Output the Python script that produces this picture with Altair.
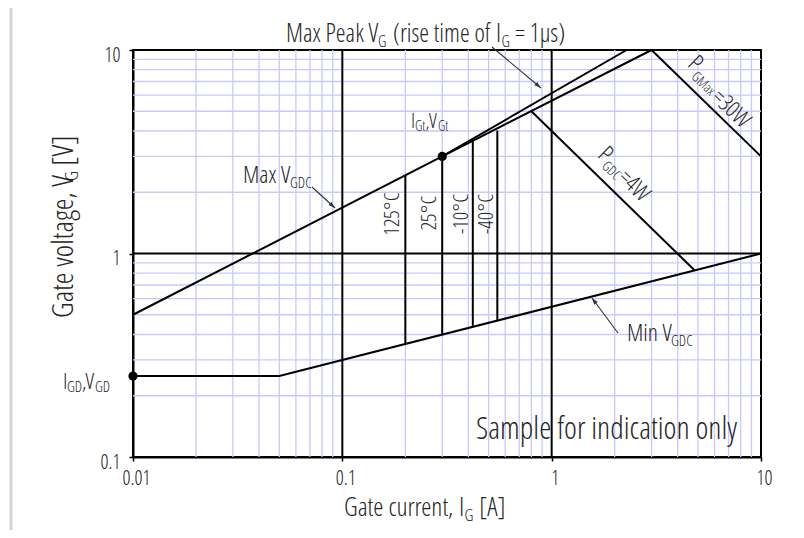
import math
import altair as alt
import pandas as pd

# ---------------- data ----------------
I_DOMAIN = [0.01, 10]
V_DOMAIN = [0.1, 10]
X_TICKS = [0.01, 0.1, 1, 10]
Y_TICKS = [0.1, 1, 10]
X_MINOR = [0.02, 0.03, 0.04, 0.05, 0.06, 0.07, 0.08, 0.09,
           0.2, 0.3, 0.4, 0.5, 0.6, 0.7, 0.8, 0.9,
           2, 3, 4, 5, 6, 7, 8, 9]
Y_MINOR = [0.2, 0.3, 0.4, 0.5, 0.6, 0.7, 0.8, 0.9,
           2, 3, 4, 5, 6, 7, 8, 9]
X_MAJOR = [0.1, 1]
Y_MAJOR = [1]

max_vgdc_I = [0.01, 0.3, 3.0]
max_vgdc_V = [0.5, 3.0, 10.0]
max_peak_I = [0.3, 2.28]
max_peak_V = [3.0, 10.0]
pgdc_I = [0.8, 4.8]
pgdc_V = [5.0, 0.83]
pgmax_I = [3.0, 10.0]
pgmax_V = [10.0, 3.0]
min_vgdc_I = [0.01, 0.05, 10.0]
min_vgdc_V = [0.25, 0.25, 1.0]

temp_labels = ["125°C", "25°C", "-10°C", "-40°C"]
temp_I = [0.2, 0.3, 0.42, 0.55]
temp_Vmin = [0.36, 0.40, 0.44, 0.47]
temp_Vmax = [2.42, 3.0, 3.55, 4.02]

dot_I = [0.3, 0.01]
dot_V = [3.0, 0.25]

# ---------------- styling ----------------
FONT = "Open Sans Condensed Light, DejaVu Sans Condensed, sans-serif"
TXT = "#262626"
GRID = "#c9c9ff"
W, H = 628, 407
OX, OY = 133, 50  # page position of plot origin (for annotations)

# annotation pieces: (text, x, y, size, angle, align, baseline)
ANNOTATIONS = [
    ("Max Peak V", 286, 42, 25, 0, "left", "alphabetic"),
    ("G", 378, 47, 16, 0, "left", "alphabetic"),
    ("(rise time of", 393, 42, 25, 0, "left", "alphabetic"),
    ("I", 496, 42, 25, 0, "left", "alphabetic"),
    ("G", 501.5, 47, 16, 0, "left", "alphabetic"),
    ("= 1μs)", 515, 42, 25, 0, "left", "alphabetic"),
    ("I", 411, 128, 20, 0, "left", "alphabetic"),
    ("Gt", 415, 131, 14, 0, "left", "alphabetic"),
    (",", 425.5, 128, 20, 0, "left", "alphabetic"),
    ("V", 429, 128, 20, 0, "left", "alphabetic"),
    ("Gt", 438, 131, 14, 0, "left", "alphabetic"),
    ("Max V", 243, 183, 24, 0, "left", "alphabetic"),
    ("GDC", 290, 188, 15, 0, "left", "alphabetic"),
    ("Min V", 627, 341, 24, 0, "left", "alphabetic"),
    ("GDC", 671, 346, 15, 0, "left", "alphabetic"),
    ("I", 63, 389, 22, 0, "left", "alphabetic"),
    ("GD", 67, 392, 15, 0, "left", "alphabetic"),
    (",", 82, 389, 22, 0, "left", "alphabetic"),
    ("V", 85.5, 389, 22, 0, "left", "alphabetic"),
    ("GD", 95, 392, 15, 0, "left", "alphabetic"),
    ("Sample for indication only", 476, 439, 31, 0, "left", "alphabetic"),
    ("Gate current,", 344, 516, 26, 0, "left", "alphabetic"),
    ("I", 459, 516, 26, 0, "left", "alphabetic"),
    ("G", 464.5, 521, 17, 0, "left", "alphabetic"),
    ("[A]", 479, 516, 26, 0, "left", "alphabetic"),
    ("Gate voltage, V", 73, 318, 30, 270, "left", "alphabetic"),
    ("G", 78, 181, 19, 270, "left", "alphabetic"),
    ("[V]", 73, 166, 30, 270, "left", "alphabetic"),
    ("P", 605, 155, 24, 44, "center", "middle"),
    ("GDC", 611, 171, 14, 44, "center", "middle"),
    ("=4W", 634, 186, 23, 44, "center", "middle"),
    ("P", 695, 64, 24, 44, "center", "middle"),
    ("GMax", 703, 84, 14, 44, "center", "middle"),
    ("=30W", 731, 109, 23, 44, "center", "middle"),
]
TEMP_LABEL_X = [393, 430, 462, 487]
TEMP_LABEL_Y = [214, 213, 214, 214]

# arrows: (x0, y0, x1, y1) page pixels, arrow tip at (x1, y1)
ARROWS = [
    (492, 47, 541, 88),
    (312, 187, 335, 208),
    (618, 333, 592, 298),
]

xs = alt.Scale(type="log", domain=I_DOMAIN, nice=False)
ys = alt.Scale(type="log", domain=V_DOMAIN, nice=False)
one = pd.DataFrame({"d": [0]})

x_axis = alt.Axis(values=X_TICKS, format="~g", grid=False, title=None,
                  domainColor="black", domainWidth=2, tickColor="black", tickWidth=1.5,
                  tickSize=4, labelFont=FONT, labelFontSize=20, labelColor=TXT,
                  labelPadding=7, labelOffset=3, labelFlush=False)
y_axis = alt.Axis(values=Y_TICKS, format="~g", grid=False, title=None,
                  domainColor="black", domainWidth=2, tickColor="black", tickWidth=1.5,
                  tickSize=4, labelFont=FONT, labelFontSize=20, labelColor=TXT,
                  labelPadding=9, labelOffset=5, labelFlush=False)

# ---------------- layers ----------------
gx = alt.Chart(pd.DataFrame({"v": X_MINOR})).mark_rule(color=GRID, strokeWidth=1.3).encode(
    x=alt.X("v:Q", scale=xs, axis=x_axis))
gy = alt.Chart(pd.DataFrame({"v": Y_MINOR})).mark_rule(color=GRID, strokeWidth=1.3).encode(
    y=alt.Y("v:Q", scale=ys, axis=y_axis))
mx = alt.Chart(pd.DataFrame({"v": X_MAJOR})).mark_rule(color="black", strokeWidth=2).encode(
    x=alt.X("v:Q", scale=xs, axis=x_axis))
my = alt.Chart(pd.DataFrame({"v": Y_MAJOR})).mark_rule(color="black", strokeWidth=2).encode(
    y=alt.Y("v:Q", scale=ys, axis=y_axis))

rows = []
for name, Is, Vs in [("maxvgdc", max_vgdc_I, max_vgdc_V), ("maxpeak", max_peak_I, max_peak_V),
                     ("pgdc", pgdc_I, pgdc_V), ("pgmax", pgmax_I, pgmax_V),
                     ("minvgdc", min_vgdc_I, min_vgdc_V)]:
    for k, (i, v) in enumerate(zip(Is, Vs)):
        rows.append({"series": name, "k": k, "I": i, "V": v})
curves_df = pd.DataFrame(rows)

curves = alt.Chart(curves_df).mark_line(color="black", strokeWidth=2).encode(
    x=alt.X("I:Q", scale=xs, axis=x_axis),
    y=alt.Y("V:Q", scale=ys, axis=y_axis),
    detail="series:N",
    order="k:Q",
)

temp_df = pd.DataFrame({"label": temp_labels, "I": temp_I, "Vmin": temp_Vmin, "Vmax": temp_Vmax})
temps = alt.Chart(temp_df).mark_rule(color="black", strokeWidth=2).encode(
    x=alt.X("I:Q", scale=xs, axis=x_axis),
    y=alt.Y("Vmin:Q", scale=ys, axis=y_axis),
    y2="Vmax:Q",
)

dots = alt.Chart(pd.DataFrame({"I": dot_I, "V": dot_V})).mark_circle(
    color="black", size=85, opacity=1).encode(
    x=alt.X("I:Q", scale=xs, axis=x_axis), y=alt.Y("V:Q", scale=ys, axis=y_axis))

layers = [gx, gy, mx, my, curves, temps, dots]

for (x0, y0, x1, y1) in ARROWS:
    layers.append(alt.Chart(one).mark_rule(color="#333333", strokeWidth=1.1).encode(
        x=alt.value(x0 - OX), y=alt.value(y0 - OY), x2=alt.value(x1 - OX), y2=alt.value(y1 - OY)))
    ang = math.degrees(math.atan2(x1 - x0, -(y1 - y0))) % 360
    layers.append(alt.Chart(one).mark_point(
        shape="M0,0L0.32,1L-0.32,1Z", filled=True, color="#333333", size=180,
        angle=ang, opacity=1, strokeWidth=0).encode(
        x=alt.value(x1 - OX), y=alt.value(y1 - OY)))

for (t, x, y, s, a, al, bl) in ANNOTATIONS:
    layers.append(alt.Chart(one).mark_text(
        text=t, font=FONT, fontSize=s, angle=a, align=al, baseline=bl, color=TXT).encode(
        x=alt.value(x - OX), y=alt.value(y - OY)))

for t, x, y in zip(temp_labels, TEMP_LABEL_X, TEMP_LABEL_Y):
    layers.append(alt.Chart(one).mark_text(
        text=t, font=FONT, fontSize=21, angle=270, align="center", baseline="middle",
        color=TXT).encode(x=alt.value(x - OX), y=alt.value(y - OY)))

# faint page-edge shadow at left
layers.append(alt.Chart(one).mark_rule(color="#d4d4d4", strokeWidth=3).encode(
    x=alt.value(11 - OX), y=alt.value(-OY + 8), x2=alt.value(11 - OX), y2=alt.value(540 - OY)))

chart = alt.layer(*layers).properties(
    width=W, height=H,
    autosize=alt.AutoSizeParams(type="none"),
    padding={"left": OX - 8, "top": OY - 8, "right": 804 - 16 - (OX - 8) - W, "bottom": 538 - 16 - (OY - 8) - H},
    background="white",
).configure_view(stroke="black", strokeWidth=2)

chart.save("out.html", embed_options={"renderer": "svg", "actions": False})
